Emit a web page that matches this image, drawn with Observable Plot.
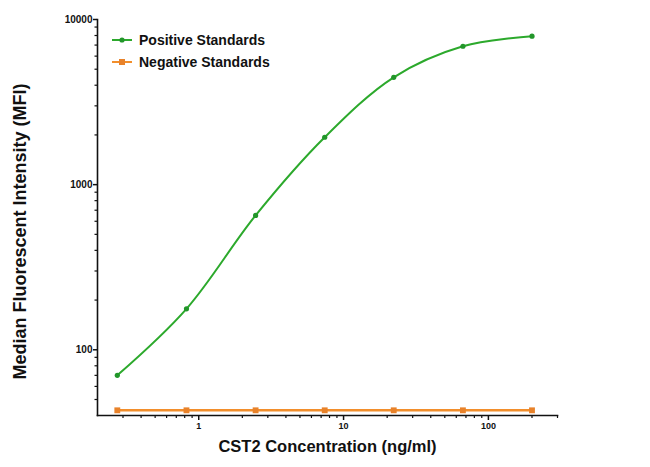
<!DOCTYPE html>
<html>
<head>
<meta charset="utf-8">
<script src="https://cdn.jsdelivr.net/npm/d3@7"></script>
<script src="https://cdn.jsdelivr.net/npm/@observablehq/plot@0.6"></script>
<style>
  body { margin: 0; background: #fff; }
  #wrap { position: relative; width: 650px; height: 467px; font-family: "Liberation Sans", Arial, sans-serif; }
  #legend { position: absolute; left: 112px; top: 29px; font-weight: bold; font-size: 14px; color: #111; }
  #legend .row { display: flex; align-items: center; height: 22px; }
  #legend svg { margin-right: 7px; }
</style>
</head>
<body>
<div id="wrap"><div id="legend"></div></div>
<script>
// ---- data ----
const concentration = [0.274, 0.823, 2.47, 7.41, 22.2, 66.7, 200];
const positiveMFI = [70, 177, 651, 1936, 4467, 6886, 7925];
const negativeMFI = [43, 43, 43, 43, 43, 43, 43];
const seriesNames = ["Positive Standards", "Negative Standards"];
const seriesColors = ["#2ca92c", "#f28e2b"];
const markerColors = ["#22962a", "#e8822a"];
const xTitle = "CST2 Concentration (ng/ml)";
const yTitle = "Median Fluorescent Intensity (MFI)";
const xMajorTicks = [1, 10, 100];
const yMajorTicks = [100, 1000, 10000];
const xMinorTicks = [0.3, 0.4, 0.5, 0.6, 0.7, 0.8, 0.9, 2, 3, 4, 5, 6, 7, 8, 9, 20, 30, 40, 50, 60, 70, 80, 90, 200, 300];
const yMinorTicks = [50, 60, 70, 80, 90, 200, 300, 400, 500, 600, 700, 800, 900, 2000, 3000, 4000, 5000, 6000, 7000, 8000, 9000];

const positive = concentration.map((c, i) => ({c, v: positiveMFI[i]}));
const negative = concentration.map((c, i) => ({c, v: negativeMFI[i]}));

const chart = Plot.plot({
  width: 650,
  height: 467,
  marginLeft: 97,
  marginRight: 93,
  marginTop: 19,
  marginBottom: 52,
  style: {fontFamily: "'Liberation Sans', Arial, sans-serif", fontWeight: "bold", color: "#111", background: "#fff"},
  x: {type: "log", domain: [0.2, 300]},
  y: {type: "log", domain: [40, 10000]},
  marks: [
    Plot.axisX(xMinorTicks, {tickSize: 3, tickFormat: () => "", label: null, strokeWidth: 1.2}),
    Plot.axisX(xMajorTicks, {tickSize: 5, tickPadding: 2, fontSize: 9, strokeWidth: 1.5, tickFormat: d => String(d), label: null}),
    Plot.axisY(yMinorTicks, {tickSize: 2.5, tickFormat: () => "", label: null, strokeWidth: 1.2}),
    Plot.axisY(yMajorTicks, {tickSize: 4, tickPadding: 1, fontSize: 10, strokeWidth: 1.5, tickFormat: d => String(d), label: null}),
    Plot.frame({anchor: "left", strokeWidth: 1.6}),
    Plot.frame({anchor: "bottom", strokeWidth: 1.6}),
    Plot.text([xTitle], {frameAnchor: "bottom", dy: 31, textAnchor: "middle", lineAnchor: "middle", fontSize: 16.5, fontWeight: "bold", fill: "#111"}),
    Plot.text([yTitle], {frameAnchor: "left", dx: -77, dy: 14, rotate: -90, textAnchor: "middle", lineAnchor: "middle", fontSize: 18, fontWeight: "bold", fill: "#111"}),
    Plot.line(negative, {x: "c", y: "v", stroke: seriesColors[1], strokeWidth: 2.5}),
    Plot.dot(negative, {x: "c", y: "v", symbol: "square", r: 3.3, fill: markerColors[1]}),
    Plot.line(positive, {x: "c", y: "v", stroke: seriesColors[0], strokeWidth: 2, curve: "catmull-rom"}),
    Plot.dot(positive, {x: "c", y: "v", r: 2.6, fill: markerColors[0]})
  ]
});
document.getElementById("wrap").prepend(chart);

// legend
const legend = document.getElementById("legend");
seriesNames.forEach((name, i) => {
  const row = document.createElement("div");
  row.className = "row";
  const sym = i === 0
    ? `<circle cx="10" cy="5" r="2.6" fill="${markerColors[i]}"/>`
    : `<rect x="7" y="2" width="6" height="6" fill="${markerColors[i]}"/>`;
  row.innerHTML = `<svg width="20" height="10"><line x1="0" x2="20" y1="5" y2="5" stroke="${seriesColors[i]}" stroke-width="2"/>${sym}</svg><span>${name}</span>`;
  legend.appendChild(row);
});
</script>
</body>
</html>
